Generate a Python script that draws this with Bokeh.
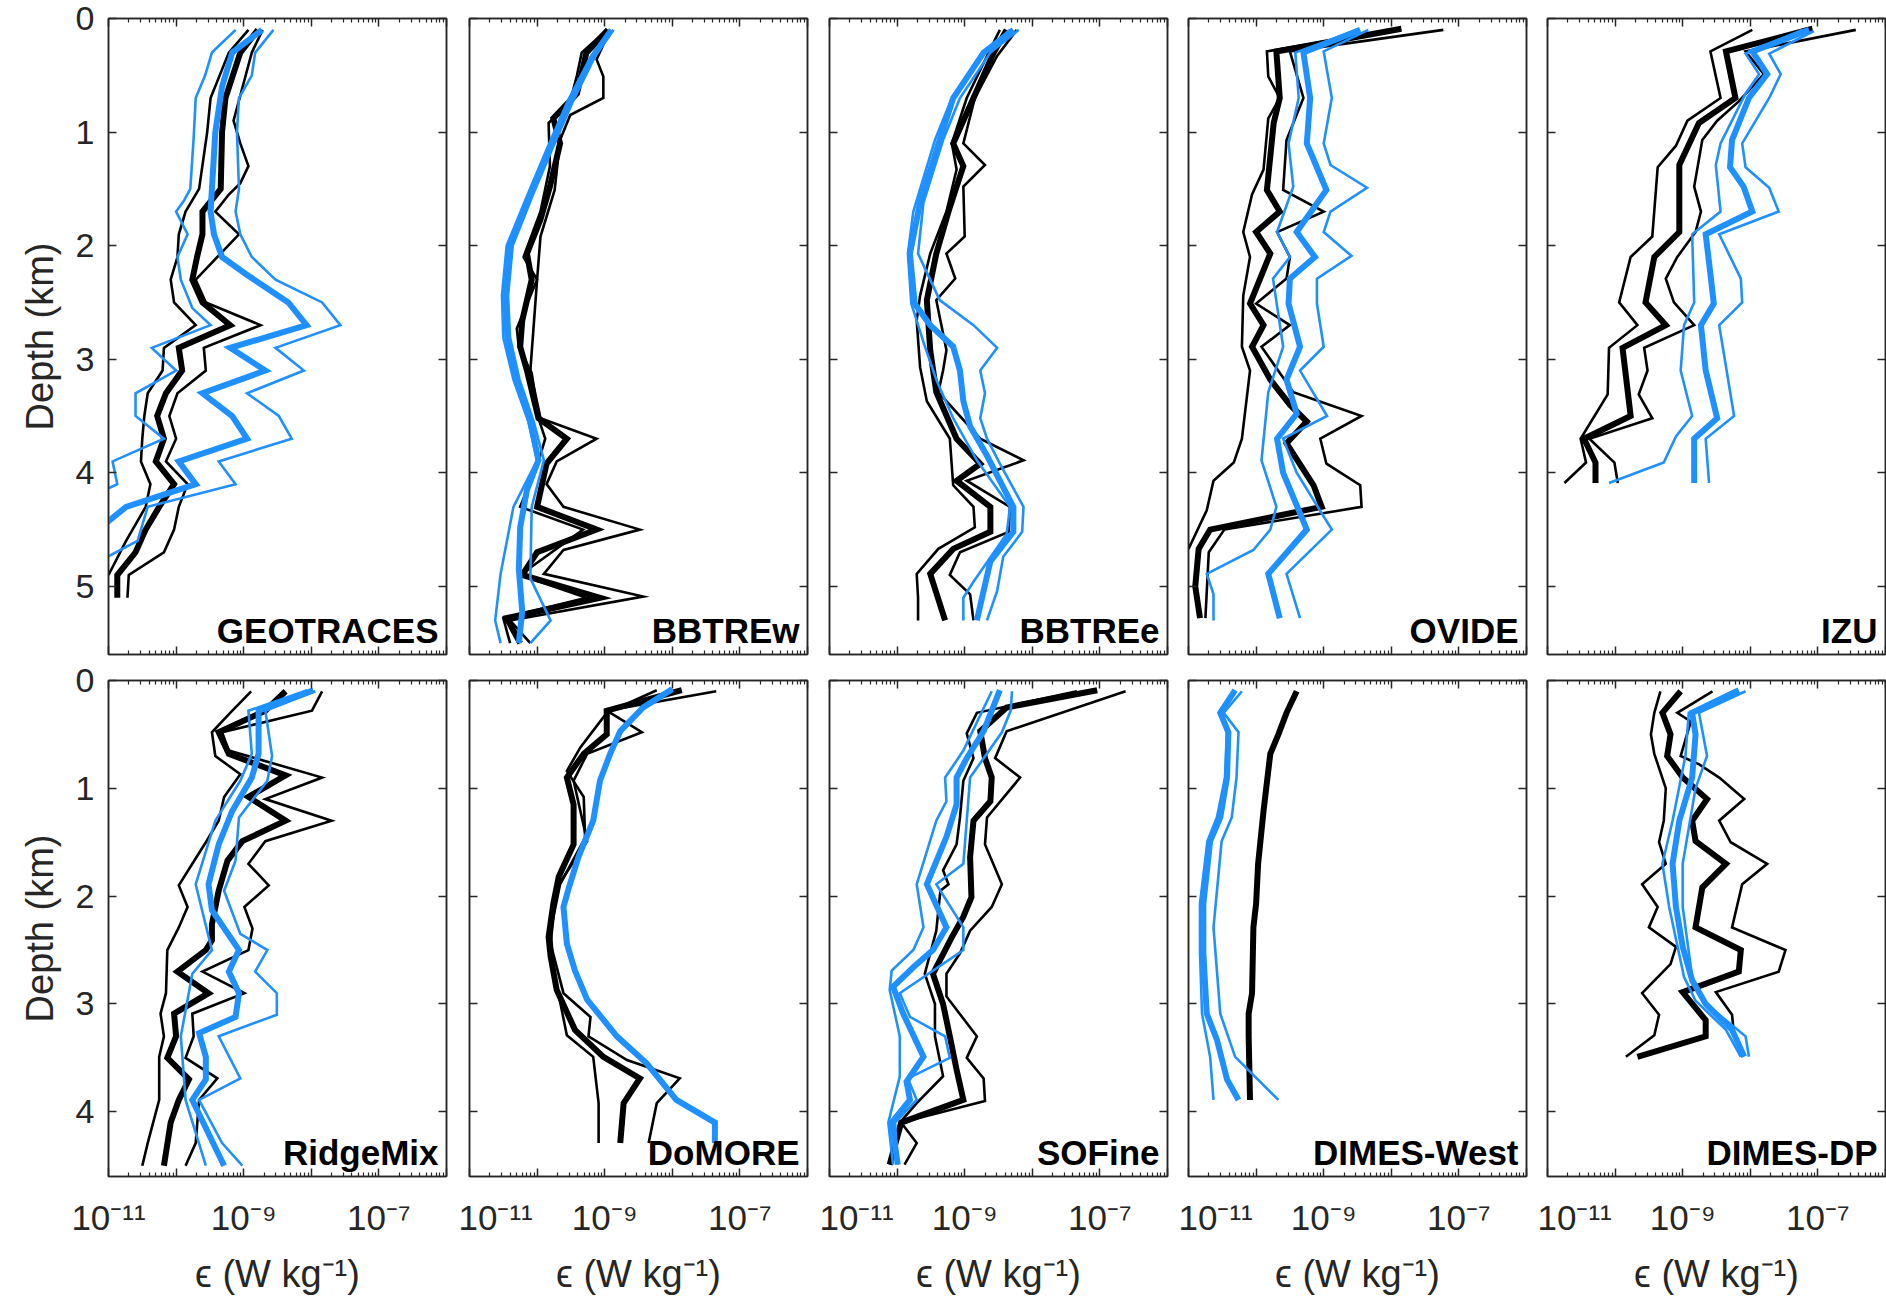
from bokeh.plotting import figure
from bokeh.models import Range1d, FixedTicker, LogAxis, LinearAxis, Label
from bokeh.layouts import column, row
from bokeh.embed import file_html
from bokeh.resources import INLINE

# ---------------- data: (depth km, log10 epsilon W/kg) ----------------
# k = black (thin, thick, thin), b = blue (thin, thick, thin)
GEO_k1 = [(0.1,-8.93),(0.3,-9.22),(0.7,-9.49),(1.0,-9.54),(1.5,-9.66),(1.7,-9.86),(1.9,-9.96),(2.1,-9.98),(2.3,-10.08),(2.5,-10.03),(2.7,-9.71),(2.9,-10.18),(3.1,-10.2),(3.3,-10.42),(3.5,-10.47),(3.7,-10.5),(3.9,-10.52),(4.1,-10.38),(4.3,-10.45),(4.6,-10.74),(4.9,-11.0)]
GEO_k2 = [(0.1,-8.79),(0.3,-9.05),(0.7,-9.27),(1.0,-9.32),(1.5,-9.34),(1.7,-9.61),(1.9,-9.61),(2.1,-9.69),(2.3,-9.76),(2.5,-9.61),(2.7,-9.2),(2.9,-9.96),(3.1,-9.91),(3.3,-10.15),(3.5,-10.28),(3.7,-10.18),(3.9,-10.3),(4.1,-10.03),(4.3,-10.25),(4.5,-10.45),(4.7,-10.6),(4.9,-10.87),(5.1,-10.87)]
GEO_k3 = [(0.1,-8.72),(0.3,-8.88),(0.5,-8.97),(0.9,-9.15),(1.1,-9.05),(1.3,-8.93),(1.45,-9.05),(1.55,-9.22),(1.7,-9.42),(1.9,-9.07),(2.3,-9.71),(2.5,-9.56),(2.7,-8.75),(2.9,-9.59),(3.1,-9.56),(3.3,-9.98),(3.5,-10.1),(3.7,-10.0),(3.9,-10.15),(4.1,-9.83),(4.3,-9.96),(4.5,-10.03),(4.7,-10.18),(4.9,-10.7),(5.1,-10.72)]
GEO_b1 = [(0.1,-9.12),(0.3,-9.47),(0.5,-9.57),(0.7,-9.71),(1.05,-9.74),(1.5,-9.79),(1.6,-9.88),(1.7,-10.0),(1.9,-9.83),(2.1,-9.98),(2.3,-9.93),(2.55,-9.76),(2.7,-9.49),(2.9,-10.36),(3.1,-10.0),(3.3,-10.6),(3.5,-10.6),(3.7,-10.18),(3.9,-10.94),(4.1,-10.87),(4.15,-11.05)]
GEO_b2 = [(0.1,-8.73),(0.3,-9.17),(0.6,-9.32),(1.0,-9.42),(1.5,-9.47),(1.7,-9.49),(1.9,-9.44),(2.1,-9.32),(2.25,-8.97),(2.5,-8.34),(2.7,-8.07),(2.9,-9.2),(3.1,-8.68),(3.3,-9.61),(3.5,-9.17),(3.7,-8.95),(3.9,-9.96),(4.1,-9.71),(4.3,-10.74),(4.45,-11.05)]
GEO_b3 = [(0.1,-8.56),(0.3,-8.83),(0.5,-8.88),(0.7,-9.07),(1.0,-9.1),(1.5,-9.07),(1.7,-9.12),(1.9,-9.05),(2.1,-8.88),(2.3,-8.53),(2.5,-7.84),(2.7,-7.57),(2.9,-8.53),(3.1,-8.11),(3.3,-8.95),(3.5,-8.48),(3.7,-8.29),(3.9,-9.37),(4.1,-9.12),(4.3,-10.42),(4.6,-10.57),(4.75,-11.05)]

BBW_k1 = [(0.1,-8.97),(0.3,-9.34),(0.5,-9.41),(0.73,-9.51),(0.92,-9.83),(1.3,-9.81),(1.7,-9.95),(2.1,-10.2),(2.3,-10.0),(2.73,-10.3),(2.9,-10.27),(3.12,-10.08),(3.52,-9.98),(3.7,-9.88),(3.9,-9.98),(4.3,-10.25),(4.5,-9.32),(4.9,-10.25),(5.1,-9.27),(5.28,-10.5),(5.5,-10.4)]
BBW_k2 = [(0.1,-8.95),(0.3,-9.27),(0.66,-9.41),(0.88,-9.76),(1.1,-9.66),(1.48,-9.81),(1.77,-9.95),(2.07,-10.15),(2.3,-10.08),(2.66,-10.22),(2.89,-10.25),(3.1,-10.15),(3.52,-9.98),(3.7,-9.56),(3.92,-9.86),(4.3,-10.0),(4.5,-9.12),(4.7,-10.0),(4.9,-10.22),(5.1,-9.07),(5.28,-10.45),(5.5,-10.25)]
BBW_k3 = [(0.1,-8.92),(0.36,-9.12),(0.51,-9.02),(0.7,-9.02),(0.85,-9.51),(1.07,-9.66),(1.51,-9.74),(1.92,-9.95),(2.3,-10.0),(3.1,-10.1),(3.52,-9.95),(3.7,-9.12),(3.9,-9.71),(4.1,-9.86),(4.3,-9.61),(4.5,-8.48),(4.68,-9.61),(4.89,-9.9),(5.09,-8.43),(5.3,-10.4),(5.5,-10.1)]
BBW_b1 = [(0.1,-8.92),(0.33,-9.2),(0.73,-9.55),(1.14,-9.85),(1.55,-10.14),(2.0,-10.45),(2.44,-10.52),(2.81,-10.5),(3.18,-10.35),(3.55,-10.13),(3.89,-10.0),(4.3,-10.35),(4.89,-10.54),(5.3,-10.62),(5.5,-10.54)]
BBW_b2 = [(0.1,-8.9),(0.33,-9.17),(0.73,-9.51),(1.14,-9.81),(1.55,-10.1),(2.0,-10.4),(2.44,-10.47),(2.81,-10.44),(3.18,-10.3),(3.55,-10.1),(3.89,-9.98),(4.15,-10.15),(4.48,-10.25),(4.85,-10.27),(5.22,-10.22),(5.5,-10.27)]
BBW_b3 = [(0.1,-8.87),(0.33,-9.14),(0.73,-9.47),(1.14,-9.77),(1.55,-10.06),(2.0,-10.36),(2.44,-10.43),(2.81,-10.4),(3.18,-10.26),(3.55,-10.05),(3.89,-9.9),(4.3,-10.08),(4.93,-10.1),(5.3,-9.8),(5.5,-10.1)]

BBE_k1 = [(0.1,-8.48),(0.33,-8.67),(0.7,-8.97),(1.1,-9.19),(1.33,-9.12),(1.7,-9.27),(2.07,-9.51),(2.44,-9.66),(2.66,-9.71),(3.07,-9.66),(3.37,-9.56),(3.7,-9.22),(4.11,-9.17),(4.3,-8.87),(4.48,-8.85),(4.67,-9.39),(4.89,-9.71),(5.1,-9.69),(5.3,-9.69)]
BBE_k2 = [(0.1,-8.38),(0.3,-8.57),(0.7,-8.87),(1.1,-9.17),(1.3,-9.02),(1.48,-9.12),(1.7,-9.24),(2.07,-9.42),(2.48,-9.56),(2.92,-9.51),(3.29,-9.42),(3.7,-9.12),(3.92,-8.77),(4.07,-9.12),(4.3,-8.62),(4.52,-8.62),(4.67,-9.17),(4.89,-9.51),(5.3,-9.29)]
BBE_k3 = [(0.1,-8.23),(0.33,-8.52),(0.7,-8.85),(1.1,-9.02),(1.29,-8.7),(1.48,-9.02),(1.92,-9.0),(2.07,-9.27),(2.29,-9.14),(2.48,-9.42),(2.92,-9.27),(3.1,-9.32),(3.29,-9.39),(3.7,-8.77),(3.89,-8.13),(4.07,-8.97),(4.3,-8.33),(4.52,-8.35),(4.7,-9.07),(4.9,-9.22),(5.07,-8.92),(5.3,-8.87)]
BBE_b1 = [(0.1,-8.33),(0.3,-8.72),(0.7,-9.19),(1.07,-9.44),(1.7,-9.76),(2.07,-9.84),(2.51,-9.79),(2.85,-9.61),(3.18,-9.42),(3.52,-9.17),(3.89,-8.82),(4.3,-8.33),(4.54,-8.38),(4.96,-8.87),(5.1,-9.02),(5.3,-9.02)]
BBE_b2 = [(0.1,-8.28),(0.3,-8.72),(0.7,-9.17),(1.07,-9.37),(1.62,-9.66),(2.07,-9.81),(2.51,-9.74),(2.7,-9.51),(2.89,-9.17),(3.1,-9.07),(3.37,-9.02),(3.59,-8.92),(3.85,-8.67),(4.3,-8.28),(4.52,-8.28),(4.78,-8.62),(5.3,-8.82)]
BBE_b3 = [(0.1,-8.2),(0.3,-8.62),(0.7,-9.07),(1.07,-9.32),(1.62,-9.61),(2.07,-9.69),(2.48,-9.37),(2.7,-8.87),(2.9,-8.52),(3.1,-8.77),(3.3,-8.7),(3.52,-8.77),(3.7,-8.67),(3.92,-8.48),(4.3,-8.13),(4.52,-8.15),(4.74,-8.43),(5.04,-8.52),(5.3,-8.67)]

OVI_k1 = [(0.09,-7.9),(0.29,-9.84),(0.51,-9.82),(0.7,-9.65),(0.88,-9.82),(1.33,-9.89),(1.55,-10.06),(1.88,-10.19),(2.1,-10.09),(2.44,-10.19),(2.89,-10.21),(3.1,-10.09),(3.7,-10.21),(3.91,-10.33),(4.07,-10.63),(4.33,-10.73),(4.67,-11.0)]
OVI_k2 = [(0.09,-7.85),(0.29,-9.7),(0.7,-9.65),(0.92,-9.74),(1.51,-9.84),(1.7,-9.65),(1.88,-10.0),(2.07,-9.79),(2.51,-10.09),(2.7,-9.89),(2.89,-10.06),(3.18,-9.79),(3.4,-9.5),(3.55,-9.25),(3.74,-9.55),(4.11,-9.15),(4.3,-9.03),(4.5,-10.68),(4.67,-10.85),(5.0,-10.9),(5.28,-10.83)]
OVI_k3 = [(0.1,-7.23),(0.29,-9.5),(0.7,-9.3),(1.07,-9.55),(1.51,-9.6),(1.7,-9.0),(1.88,-9.69),(2.1,-9.5),(2.29,-9.55),(2.51,-10.0),(2.7,-9.5),(2.89,-9.92),(3.29,-9.45),(3.5,-8.44),(3.7,-9.05),(3.92,-8.96),(4.11,-8.46),(4.3,-8.44),(4.5,-10.47),(4.7,-10.7),(5.28,-10.75)]
OVI_b1 = [(0.1,-8.51),(0.3,-9.42),(0.7,-9.37),(1.1,-9.52),(1.48,-9.45),(1.88,-9.69),(2.1,-9.5),(2.29,-9.75),(2.89,-9.6),(3.29,-9.82),(3.89,-9.92),(4.3,-9.7),(4.5,-9.79),(4.68,-10.04),(4.89,-10.73),(5.07,-10.63),(5.3,-10.63)]
OVI_b2 = [(0.1,-8.46),(0.3,-9.3),(0.7,-9.2),(1.1,-9.25),(1.51,-8.96),(1.88,-9.4),(2.1,-9.13),(2.29,-9.5),(2.51,-9.52),(2.89,-9.35),(3.18,-9.55),(3.48,-9.4),(3.7,-9.69),(4.0,-9.6),(4.5,-9.25),(4.89,-9.82),(5.28,-9.65)]
OVI_b3 = [(0.1,-8.34),(0.29,-9.0),(0.7,-8.88),(1.1,-9.0),(1.29,-8.9),(1.49,-8.36),(1.7,-8.9),(1.88,-9.0),(2.09,-8.59),(2.29,-9.1),(2.51,-9.1),(2.89,-9.0),(3.1,-9.35),(3.5,-8.95),(3.7,-9.6),(4.0,-9.4),(4.5,-8.88),(4.89,-9.55),(5.28,-9.35)]

IZU_k1 = [(0.1,-7.97),(0.29,-8.59),(0.7,-8.44),(0.9,-8.93),(1.12,-9.1),(1.31,-9.37),(1.92,-9.45),(2.1,-9.77),(2.5,-9.94),(2.7,-9.67),(2.9,-10.09),(3.31,-10.11),(3.7,-10.51),(3.91,-10.43),(4.09,-10.75)]
IZU_k2 = [(0.09,-7.08),(0.29,-8.36),(0.7,-8.22),(0.92,-8.76),(1.29,-9.05),(1.88,-9.05),(2.1,-9.42),(2.5,-9.55),(2.7,-9.25),(2.9,-9.89),(3.5,-9.77),(3.7,-10.46),(3.91,-10.29),(4.09,-10.29)]
IZU_k3 = [(0.1,-6.44),(0.29,-8.07),(0.49,-7.8),(0.73,-8.17),(0.9,-8.49),(1.07,-8.71),(1.48,-8.83),(1.7,-8.73),(1.88,-8.81),(2.1,-9.08),(2.29,-9.25),(2.5,-9.13),(2.7,-8.83),(2.9,-9.57),(3.1,-9.52),(3.31,-9.65),(3.52,-9.45),(3.7,-10.38),(3.91,-10.01),(4.09,-9.96)]
IZU_b1 = [(0.1,-7.23),(0.31,-8.07),(0.49,-7.87),(0.66,-8.07),(1.1,-8.44),(1.29,-8.51),(1.7,-8.44),(1.9,-8.86),(2.5,-8.83),(2.7,-8.98),(3.1,-9.03),(3.5,-8.86),(3.68,-9.1),(3.91,-9.28),(4.09,-10.09)]
IZU_b2 = [(0.1,-7.13),(0.29,-7.97),(0.49,-7.75),(0.7,-8.02),(1.07,-8.27),(1.31,-8.3),(1.48,-8.1),(1.7,-7.97),(1.9,-8.66),(2.25,-8.59),(2.51,-8.54),(2.7,-8.73),(3.1,-8.66),(3.52,-8.49),(3.7,-8.83),(4.09,-8.83)]
IZU_b3 = [(0.11,-7.06),(0.31,-7.72),(0.49,-7.55),(0.7,-7.72),(1.1,-8.12),(1.31,-8.07),(1.49,-7.72),(1.7,-7.58),(1.9,-8.46),(2.29,-8.14),(2.5,-8.12),(2.7,-8.46),(3.5,-8.24),(3.7,-8.66),(4.09,-8.61)]

RM_k1 = [(0.1,-8.89),(0.3,-9.2),(0.48,-9.47),(0.7,-9.42),(0.87,-9.05),(1.08,-9.29),(1.3,-9.37),(1.5,-9.56),(1.7,-9.76),(1.9,-9.96),(2.1,-9.83),(2.29,-9.96),(2.5,-10.13),(2.9,-10.15),(3.09,-10.23),(3.3,-10.18),(3.49,-10.25),(3.89,-10.25),(4.29,-10.42),(4.5,-10.5)]
RM_k2 = [(0.1,-8.38),(0.28,-8.68),(0.48,-9.37),(0.68,-9.22),(0.88,-8.38),(1.08,-8.93),(1.3,-8.38),(1.49,-9.02),(1.67,-9.24),(1.95,-9.37),(2.26,-9.47),(2.41,-9.47),(2.5,-9.56),(2.7,-9.98),(2.9,-9.52),(3.09,-10.03),(3.3,-10.0),(3.5,-10.13),(3.7,-9.81),(3.89,-9.96),(4.1,-10.08),(4.5,-10.18)]
RM_k3 = [(0.1,-7.84),(0.28,-7.99),(0.48,-9.32),(0.65,-9.22),(0.9,-7.84),(1.1,-8.68),(1.3,-7.7),(1.49,-8.68),(1.7,-8.93),(1.9,-8.63),(2.1,-8.99),(2.3,-8.87),(2.5,-8.93),(2.7,-9.61),(2.9,-8.99),(3.09,-9.76),(3.3,-9.74),(3.5,-9.86),(3.69,-9.39),(3.89,-9.66),(4.29,-9.71),(4.5,-9.86)]
RM_b1 = [(0.09,-8.06),(0.28,-8.93),(0.68,-8.88),(0.93,-9.05),(1.3,-9.42),(1.89,-9.71),(2.5,-9.47),(2.72,-9.76),(3.3,-9.93),(3.89,-9.86),(4.5,-9.56)]
RM_b2 = [(0.09,-7.97),(0.28,-8.78),(0.68,-8.78),(0.9,-8.88),(1.21,-9.17),(1.52,-9.37),(1.89,-9.52),(2.13,-9.47),(2.5,-9.07),(2.7,-9.22),(2.9,-9.07),(3.12,-9.12),(3.27,-9.66),(3.49,-9.56),(3.7,-9.56),(3.89,-9.76),(4.5,-9.29)]
RM_b3 = [(0.1,-7.94),(0.28,-8.68),(0.7,-8.58),(0.93,-8.65),(1.27,-9.07),(1.67,-9.12),(1.95,-9.29),(2.35,-9.05),(2.5,-8.65),(2.7,-8.83),(2.9,-8.51),(3.1,-8.51),(3.3,-9.37),(3.69,-9.05),(3.89,-9.66),(4.29,-9.32),(4.5,-9.02)]

DOM_k1 = [(0.09,-8.23),(0.3,-8.97),(0.62,-9.36),(0.84,-9.56),(1.08,-9.31),(1.46,-9.29),(1.89,-9.66),(2.32,-9.8),(2.7,-9.75),(3.29,-9.56),(3.49,-9.17),(3.92,-9.09),(4.29,-9.09)]
DOM_k2 = [(0.09,-7.86),(0.28,-8.97),(0.5,-8.97),(0.68,-9.31),(0.9,-9.56),(1.15,-9.46),(1.52,-9.46),(1.82,-9.68),(2.07,-9.76),(2.38,-9.83),(2.56,-9.8),(2.87,-9.71),(3.24,-9.44),(3.49,-9.02),(3.69,-8.48),(3.92,-8.72),(4.29,-8.77)]
DOM_k3 = [(0.1,-7.35),(0.28,-8.97),(0.48,-8.45),(0.68,-9.26),(0.93,-9.46),(1.49,-9.26),(1.92,-9.71),(2.44,-9.8),(2.9,-9.61),(3.12,-9.21),(3.3,-9.24),(3.52,-8.67),(3.69,-7.89),(3.92,-8.23),(4.29,-8.35)]
DOM_b2 = [(0.08,-8.0),(0.25,-8.43),(0.47,-8.77),(0.68,-8.92),(0.93,-9.07),(1.3,-9.17),(1.64,-9.39),(1.92,-9.53),(2.1,-9.61),(2.44,-9.56),(2.69,-9.44),(2.96,-9.26),(3.3,-8.82),(3.55,-8.38),(3.89,-7.94),(4.1,-7.37),(4.29,-7.37)]

SOF_k1 = [(0.1,-7.34),(0.3,-8.82),(0.49,-8.97),(0.72,-8.87),(0.93,-9.02),(1.27,-9.07),(1.52,-9.12),(1.76,-9.32),(1.89,-9.24),(1.95,-9.36),(2.32,-9.42),(2.72,-9.59),(3.0,-9.44),(3.3,-9.44),(3.67,-9.32),(3.92,-9.71),(4.1,-9.96),(4.49,-10.11)]
SOF_k2 = [(0.09,-7.04),(0.25,-8.38),(0.47,-8.77),(0.72,-8.7),(0.9,-8.6),(1.12,-8.62),(1.3,-8.87),(1.64,-8.92),(2.01,-8.9),(2.19,-9.02),(2.38,-9.19),(2.72,-9.47),(3.0,-9.32),(3.3,-9.22),(3.61,-9.12),(3.89,-9.02),(4.1,-9.94),(4.49,-10.11)]
SOF_k3 = [(0.1,-6.62),(0.47,-8.38),(0.72,-8.55),(0.9,-8.18),(1.27,-8.67),(1.52,-8.7),(1.89,-8.45),(2.1,-8.6),(2.32,-8.92),(2.53,-9.07),(2.72,-9.27),(2.93,-9.27),(3.3,-8.82),(3.5,-8.97),(3.69,-8.72),(3.9,-8.7),(4.1,-9.94),(4.29,-9.71),(4.49,-9.89)]
SOF_b1 = [(0.1,-8.6),(0.65,-9.02),(0.9,-9.29),(1.12,-9.27),(1.3,-9.42),(1.89,-9.71),(2.29,-9.61),(2.5,-9.76),(2.69,-10.08),(2.87,-10.11),(3.3,-9.96),(3.67,-9.96),(4.1,-10.13),(4.49,-10.06)]
SOF_b2 = [(0.09,-8.48),(0.47,-8.72),(0.72,-8.97),(0.9,-9.12),(1.15,-9.12),(1.45,-9.27),(1.89,-9.56),(2.29,-9.27),(2.5,-9.47),(2.66,-9.76),(2.84,-10.06),(3.09,-9.91),(3.49,-9.61),(3.72,-9.86),(3.89,-9.81),(4.1,-10.08),(4.49,-9.99)]
SOF_b3 = [(0.1,-8.3),(0.28,-8.32),(0.48,-8.45),(0.9,-8.92),(1.7,-9.02),(1.89,-9.42),(2.29,-9.02),(2.5,-9.02),(2.9,-9.96),(3.12,-9.81),(3.3,-9.29),(3.5,-9.22),(3.69,-9.84),(3.89,-9.71),(4.1,-10.03),(4.49,-9.99)]

DW_k2 = [(0.1,-9.4),(0.3,-9.55),(0.5,-9.67),(0.68,-9.79),(1.21,-9.89),(1.7,-9.97),(2.07,-10.0),(2.29,-10.04),(2.9,-10.06),(3.09,-10.11),(3.3,-10.11),(3.89,-10.09)]
DW_b1 = [(0.09,-10.33),(0.3,-10.55),(0.48,-10.43),(0.9,-10.46),(1.27,-10.58),(1.49,-10.72),(2.07,-10.83),(2.53,-10.83),(3.09,-10.8),(3.49,-10.68),(3.89,-10.63)]
DW_b2 = [(0.09,-10.31),(0.3,-10.53),(0.48,-10.41),(0.9,-10.43),(1.27,-10.53),(1.49,-10.68),(2.07,-10.78),(2.53,-10.78),(3.09,-10.73),(3.33,-10.58),(3.7,-10.43),(3.89,-10.26)]
DW_b3 = [(0.1,-10.21),(0.3,-10.48),(0.48,-10.26),(0.9,-10.29),(1.27,-10.36),(1.49,-10.51),(2.29,-10.63),(3.09,-10.53),(3.49,-10.31),(3.89,-9.67)]

DDP_k1 = [(0.1,-9.33),(0.3,-9.42),(0.5,-9.47),(0.68,-9.42),(1.0,-9.25),(1.3,-9.28),(1.5,-9.35),(1.7,-9.25),(1.89,-9.6),(2.1,-9.37),(2.29,-9.5),(2.47,-9.1),(2.63,-9.18),(2.9,-9.6),(3.1,-9.35),(3.29,-9.42),(3.49,-9.84)]
DDP_k2 = [(0.1,-9.03),(0.3,-9.3),(0.5,-9.18),(0.7,-9.23),(0.9,-9.0),(1.1,-8.64),(1.3,-8.86),(1.49,-8.81),(1.7,-8.36),(1.92,-8.71),(2.29,-8.81),(2.5,-8.14),(2.7,-8.17),(2.89,-9.0),(3.15,-8.66),(3.3,-8.66),(3.49,-9.67)]
DDP_k3 = [(0.1,-8.56),(0.3,-9.08),(0.38,-8.88),(0.7,-9.03),(0.78,-8.75),(0.9,-8.46),(1.1,-8.09),(1.3,-8.46),(1.5,-8.29),(1.7,-7.75),(1.89,-8.12),(2.29,-8.27),(2.5,-7.48),(2.7,-7.58),(2.89,-8.51),(3.1,-8.27),(3.29,-8.24),(3.49,-8.12)]
DDP_b1 = [(0.09,-8.22),(0.3,-8.91),(0.7,-8.96),(1.3,-9.15),(1.7,-9.3),(2.1,-9.2),(2.75,-8.98),(2.97,-8.81),(3.24,-8.36),(3.49,-8.14)]
DDP_b2 = [(0.09,-8.17),(0.3,-8.86),(0.5,-8.81),(0.9,-8.86),(1.3,-9.05),(1.7,-9.15),(2.1,-9.1),(2.47,-9.0),(2.78,-8.86),(3.0,-8.66),(3.24,-8.27),(3.49,-8.09)]
DDP_b3 = [(0.1,-8.07),(0.3,-8.76),(0.7,-8.64),(1.0,-8.81),(1.7,-9.0),(2.1,-9.0),(2.75,-8.86),(2.97,-8.71),(3.3,-8.07),(3.49,-8.02)]

NAMES_TOP = ["GEOTRACES", "BBTREw", "BBTREe", "OVIDE", "IZU"]
NAMES_BOT = ["RidgeMix", "DoMORE", "SOFine", "DIMES-West", "DIMES-DP"]
DEPTH_MAX = [5.6, 4.6]
DEPTH_TICKS = [[0, 1, 2, 3, 4, 5], [0, 1, 2, 3, 4]]
X_TICKS = [1e-11, 1e-10, 1e-9, 1e-8, 1e-7, 1e-6]
X_LABELS = {1e-11: "10\u207b\u00b9\u00b9", 1e-10: "", 1e-9: "10\u207b\u2079", 1e-8: "", 1e-7: "10\u207b\u2077", 1e-6: ""}

PANELS = [
    [(GEO_k1, GEO_k2, GEO_k3), (GEO_b1, GEO_b2, GEO_b3)],
    [(BBW_k1, BBW_k2, BBW_k3), (BBW_b1, BBW_b2, BBW_b3)],
    [(BBE_k1, BBE_k2, BBE_k3), (BBE_b1, BBE_b2, BBE_b3)],
    [(OVI_k1, OVI_k2, OVI_k3), (OVI_b1, OVI_b2, OVI_b3)],
    [(IZU_k1, IZU_k2, IZU_k3), (IZU_b1, IZU_b2, IZU_b3)],
    [(RM_k1, RM_k2, RM_k3), (RM_b1, RM_b2, RM_b3)],
    [(DOM_k1, DOM_k2, DOM_k3), (None, DOM_b2, None)],
    [(SOF_k1, SOF_k2, SOF_k3), (SOF_b1, SOF_b2, SOF_b3)],
    [(None, DW_k2, None), (DW_b1, DW_b2, DW_b3)],
    [(DDP_k1, DDP_k2, DDP_k3), (DDP_b1, DDP_b2, DDP_b3)],
]

# ---------------- styling ----------------
BLACK = "#000000"
BLUE = "#1E90FF"
AXC = "#262626"
FONT = "Liberation Sans"
WIDTHS = (2.6, 6.0, 2.6)

MINOR = [m * d for d in X_TICKS[:-1] for m in range(2, 10)]


def style_axis(ax, ticker, show_labels):
    ax.ticker = ticker
    ax.axis_line_color = AXC
    ax.axis_line_width = 1.5
    ax.major_tick_line_color = AXC
    ax.major_tick_line_width = 1.5
    ax.minor_tick_line_color = AXC
    ax.minor_tick_line_width = 1.2
    ax.major_tick_in = 8
    ax.major_tick_out = 0
    ax.minor_tick_in = 4
    ax.minor_tick_out = 0
    ax.major_label_text_font = FONT
    ax.major_label_text_color = AXC
    ax.axis_label_text_font = FONT
    ax.axis_label_text_font_style = "normal"
    ax.axis_label_text_color = AXC
    if not show_labels:
        ax.major_label_overrides = {t: "" for t in ticker.ticks}
        ax.major_label_text_font_size = "6px"
        ax.major_label_standoff = 0


def make_panel(r, c):
    idx = r * 5 + c
    name = (NAMES_TOP if r == 0 else NAMES_BOT)[c]
    ymax = DEPTH_MAX[r]
    bl = [108, 11, 10, 10, 10][c]
    br = [12, 12, 11, 11, 1][c]
    if r == 0:
        bt, bb, fh = 18, 4, 636
    else:
        bt, bb, fh = 22, 123, 496
    p = figure(x_axis_type="log", x_range=Range1d(1e-11, 1e-6),
               y_range=Range1d(ymax, 0),
               frame_width=338, frame_height=fh,
               min_border_left=bl, min_border_right=br,
               min_border_top=bt, min_border_bottom=bb,
               output_backend="svg", toolbar_location=None)
    p.grid.visible = False
    p.outline_line_color = AXC
    p.outline_line_width = 1.5
    p.background_fill_color = "white"
    p.border_fill_color = "white"

    xt = FixedTicker(ticks=X_TICKS, minor_ticks=MINOR)
    yt = FixedTicker(ticks=DEPTH_TICKS[r], minor_ticks=[])

    top = LogAxis()
    right = LinearAxis()
    p.add_layout(top, "above")
    p.add_layout(right, "right")

    bottom = p.below[0]
    left = p.left[0]
    style_axis(top, xt, False)
    style_axis(right, yt, False)
    style_axis(bottom, xt, r == 1)
    style_axis(left, yt, c == 0)

    if r == 1:
        bottom.major_label_overrides = X_LABELS
        bottom.major_label_text_font_size = "35px"
        bottom.major_label_standoff = 21
        bottom.axis_label = "\u03f5 (W kg\u207b\u00b9)"
        bottom.axis_label_text_font_size = "38px"
        bottom.axis_label_standoff = 13
    if c == 0:
        left.major_label_text_font_size = "34px"
        left.major_label_standoff = 14
        left.axis_label = "Depth (km)"
        left.axis_label_text_font_size = "38px"
        left.axis_label_standoff = 12

    blacks, blues = PANELS[idx]
    for group, color in ((blacks, BLACK), (blues, BLUE)):
        for line, w in zip(group, WIDTHS):
            if line is None:
                continue
            z = [pt[0] for pt in line]
            e = [10.0 ** pt[1] for pt in line]
            p.line(e, z, line_color=color, line_width=w, line_join="miter")

    p.add_layout(Label(x=1e-6, y=ymax, text=name, text_align="right",
                       text_baseline="bottom", x_offset=-8, y_offset=5,
                       text_font=FONT, text_font_style="bold",
                       text_font_size="35px", text_color="black"))
    return p


rows = []
for r in range(2):
    rows.append(row(*[make_panel(r, c) for c in range(5)], spacing=0))
layout = column(*rows, spacing=0)

html = file_html(layout, INLINE, title="epsilon profiles")
html = html.replace("<body>", '<body style="margin:0;">', 1)
open("out.html", "w").write(html)
